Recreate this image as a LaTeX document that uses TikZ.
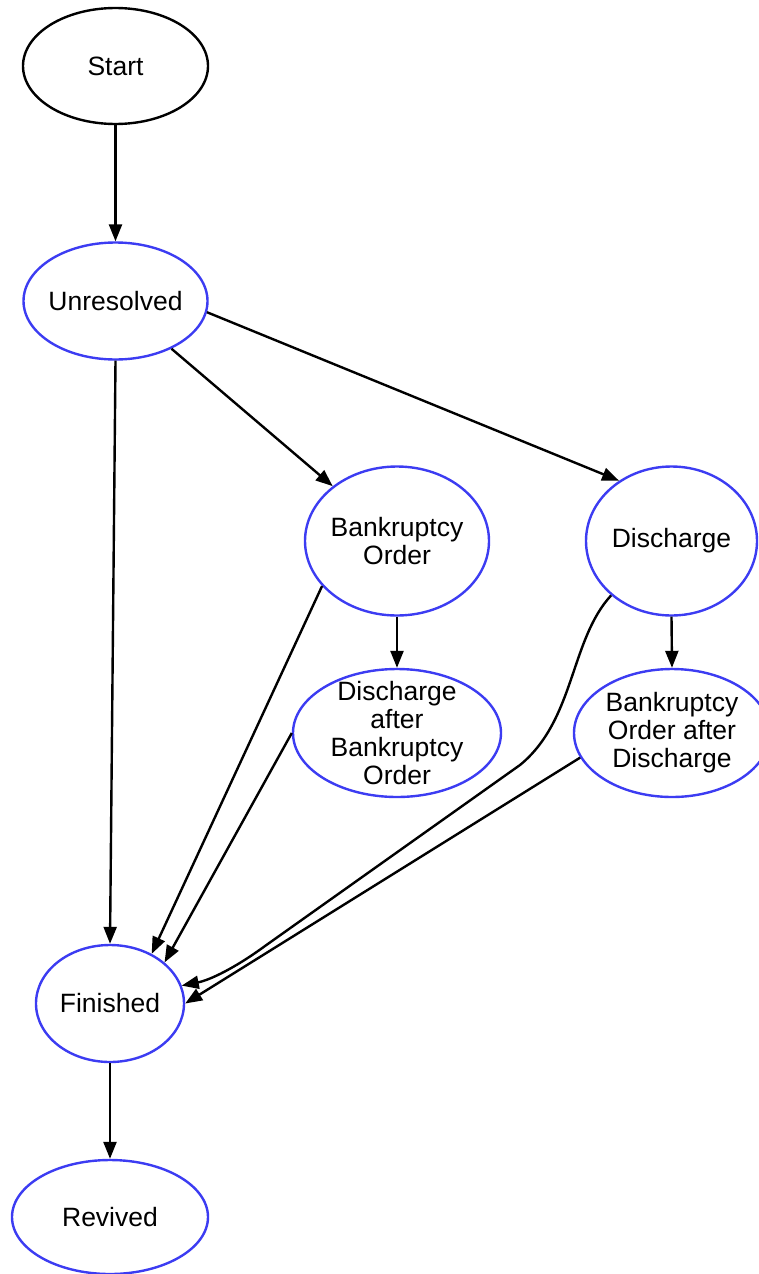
\documentclass[tikz,border=0pt]{standalone}
\usepackage{fontspec}
\setmainfont{Liberation Sans}
\usepackage{xcolor}
\usepackage{tikz}
\usetikzlibrary{arrows.meta, shapes.geometric}
\definecolor{ink}{HTML}{000000}
\definecolor{ring}{HTML}{3C3CF2}

\begin{document}
\begin{tikzpicture}[x=1pt, y=-1pt, font=\fontsize{26.5}{28}\selectfont,
  stnode/.style={ellipse, draw=ring, line width=2.4pt, inner sep=-2em, align=center},
  edge/.style={draw=ink, line width=2.4pt, -{Triangle[length=17pt, width=13pt]}}]
  \useasboundingbox (0,0) rectangle (758,1274);
  \node[stnode, draw=ink, minimum width=185pt, minimum height=116pt] (start) at (115.5,66) {Start};
  \node[stnode, minimum width=184pt, minimum height=117pt] (unres) at (115.5,301) {Unresolved};
  \node[stnode, minimum width=184pt, minimum height=149pt] (bo) at (397,541) {Bankruptcy\\Order};
  \node[stnode, minimum width=171pt, minimum height=149pt] (dis) at (671.5,541) {Discharge};
  \node[stnode, minimum width=208pt, minimum height=128pt] (dabo) at (397,733) {Discharge\\after\\Bankruptcy\\Order};
  \node[stnode, minimum width=196pt, minimum height=128pt] (boad) at (672,733) {Bankruptcy\\Order after\\Discharge};
  \node[stnode, minimum width=148pt, minimum height=117pt] (fin) at (110,1003.5) {Finished};
  \node[stnode, minimum width=196pt, minimum height=114pt] (rev) at (110,1217) {Revived};

  \draw[edge] (start.south) -- (unres.north);
  \draw[edge] (unres.south) -- (fin.north);
  \draw[edge] (unres) -- (bo);
  \draw[edge] (unres.-7) -- (dis.131);
  \draw[edge] (bo.south) -- (dabo.north);
  \draw[edge] (dis.south) -- (boad.north);
  \draw[edge] (bo.211) -- (fin.50);
  \draw[edge] (dabo.west) -- (fin.37);
  \draw[edge] (dis.222) .. controls (570,640) and (575,720) .. (520,765)
    -- (265,946) .. controls (235,968) and (210,980) .. (fin.14);
  \draw[edge] (boad.195) -- (fin.east);
  \draw[edge] (fin.south) -- (rev.north);
\end{tikzpicture}
\end{document}
